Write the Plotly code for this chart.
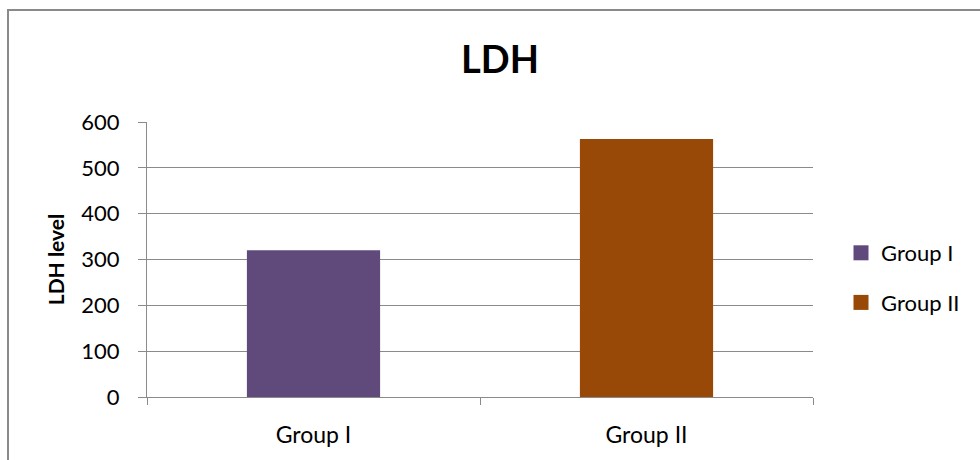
import plotly.graph_objects as go

# LDH level per group
groups = ["Group I", "Group II"]
ldh_values = [320, 563]
bar_colors = ["#604A7B", "#984807"]
y_ticks = [0, 100, 200, 300, 400, 500, 600]

FONT = "Lato, Carlito, Calibri, sans-serif"
GRID = "#8A8A8A"

fig = go.Figure()
for i, (g, v) in enumerate(zip(groups, ldh_values)):
    fig.add_trace(go.Bar(
        x=[g], y=[v], name=g, showlegend=False,
        marker=dict(color=bar_colors[i], line=dict(width=0)),
        width=0.4, legendgroup=g,
    ))
    # legend key: a filled square in the series colour
    fig.add_trace(go.Scatter(
        x=[None], y=[None], mode="markers", name=g, legendgroup=g,
        marker=dict(symbol="square", size=15, color=bar_colors[i]),
    ))

W, H = 980, 460
ml, mr, mt, mb = 147, 167, 122, 63
pw, ph = W - ml - mr, H - mt - mb

def px_to_paper_x(px):
    return (px - ml) / pw

def px_to_paper_y(py):
    return (H - mb - py) / ph

fig.update_layout(
    width=W, height=H,
    margin=dict(l=ml, r=mr, t=mt, b=mb),
    paper_bgcolor="white", plot_bgcolor="white",
    barmode="overlay",
    font=dict(family=FONT, size=22, color="#000000"),
    title=dict(
        text="<b>LDH</b>", x=500 / W, xanchor="center",
        y=1 - 60 / H, yanchor="middle",
        font=dict(family=FONT, size=38, color="#000000"),
    ),
    xaxis=dict(
        categoryorder="array", categoryarray=groups,
        showgrid=False, showline=True, linecolor=GRID, linewidth=1,
        ticks="outside", tickson="boundaries", ticklen=7, tickcolor=GRID,
        tickfont=dict(size=23), ticklabelstandoff=17, range=[-0.5, 1.5],
    ),
    yaxis=dict(
        range=[0, 600], tickvals=y_ticks,
        showgrid=True, gridcolor=GRID, gridwidth=1,
        showline=True, linecolor=GRID, linewidth=1,
        ticks="outside", ticklen=8, tickcolor=GRID,
        tickfont=dict(size=22), ticklabelstandoff=14,
        zeroline=False,
        title=dict(text="<b>LDH level</b>", font=dict(size=21), standoff=10),
    ),
    legend=dict(
        x=px_to_paper_x(841), xanchor="left",
        y=px_to_paper_y(278), yanchor="middle",
        font=dict(size=22), tracegroupgap=18,
        bgcolor="rgba(0,0,0,0)",
    ),
    showlegend=True,
    shapes=[dict(
        type="rect", xref="paper", yref="paper", layer="below",
        x0=px_to_paper_x(8), x1=px_to_paper_x(1000),
        y0=px_to_paper_y(480), y1=px_to_paper_y(10),
        line=dict(color="#8A8A8A", width=2), fillcolor="rgba(0,0,0,0)",
    )],
)

fig.write_html("out.html")
